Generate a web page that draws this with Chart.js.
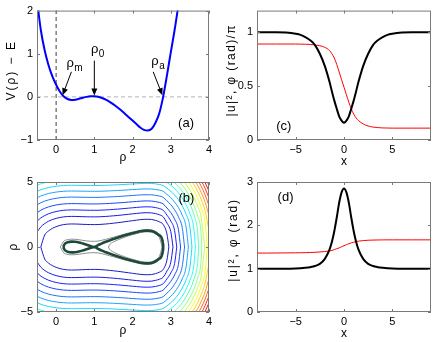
<!DOCTYPE html>
<html>
<head>
<meta charset="utf-8">
<script src="https://cdn.jsdelivr.net/npm/chart.js@4.4.1/dist/chart.umd.min.js"></script>
<style>
  body { margin: 0; background: #fff; width: 436px; height: 342px; position: relative; overflow: hidden; }
  canvas { position: absolute; }
</style>
</head>
<body>
<canvas id="panelA" width="218" height="171" style="left:0;top:0"></canvas>
<canvas id="panelB" width="218" height="171" style="left:0;top:171px"></canvas>
<canvas id="panelC" width="218" height="171" style="left:218px;top:0"></canvas>
<canvas id="panelD" width="218" height="171" style="left:218px;top:171px"></canvas>
<script>
// (a) effective potential V(rho)-E
const rhoGrid = [-0.5, -0.4, -0.3, -0.2, -0.1, 0.0, 0.1, 0.2, 0.3, 0.4, 0.5, 0.6, 0.7, 0.8, 0.9,
                 1.0, 1.1, 1.2, 1.3, 1.4, 1.5, 1.6, 1.7, 1.8, 1.9, 2.0, 2.1, 2.2, 2.3, 2.4,
                 2.5, 2.6, 2.7, 2.8, 2.9, 3.0, 3.1, 3.2, 3.3, 3.4, 3.5, 3.6, 3.7, 3.8, 3.9, 4.0];
const potential = [2.25, 1.55, 1.08, 0.74, 0.48, 0.28, 0.12, 0.01, -0.05, -0.07, -0.065, -0.045, -0.02, 0.0, 0.012,
                   0.015, 0.005, -0.025, -0.065, -0.115, -0.175, -0.24, -0.31, -0.39, -0.47, -0.55, -0.63, -0.71, -0.765, -0.78,
                   -0.74, -0.6, -0.38, 0.0, 0.5, 1.03, 1.55, 2.15, 3.0, 4.2, 5.7, 7.5, 9.6, 12.0, 14.8, 18.0];
const rhoTicks = [0, 1, 2, 3, 4];
const potentialTicks = [-1, 0, 1, 2];

// (b) phase plane: wall of the contours (read from where they close on rho_dot = 0) and their levels
const phaseWall = [2.05, 1.5, 1.08, 0.74, 0.48, 0.28, 0.12, 0.01, -0.05, -0.07, -0.065, -0.045, -0.02, 0.0, 0.012,
                   0.015, 0.005, -0.025, -0.065, -0.115, -0.175, -0.24, -0.31, -0.39, -0.47, -0.55, -0.63, -0.71, -0.765, -0.78,
                   -0.74, -0.6, -0.38, 0.0, 1.0, 2.0, 3.2, 4.6, 6.2, 8.0, 10.0, 12.2, 14.6, 17.2, 20.0, 23.0];
const separatrixLevel = 0.015;
const greyLevels = [-0.1, 0.11];
const contourLevels = [1.5, 2.7, 4.0, 5.5, 7.3, 9.2, 11.2, 13.3, 15.4, 17.5, 19.6, 21.7, 23.8, 25.9, 28.0, 30.1, 32.2, 34.3];
const rhoDotTicks = [-5, 0, 5];

// (c) and (d) profiles
const xGrid = [-9, -8, -7, -6, -5, -4.5, -4, -3.5, -3, -2.5, -2, -1.5, -1.25, -1, -0.75, -0.5, -0.25, 0,
               0.25, 0.5, 0.75, 1, 1.25, 1.5, 2, 2.5, 3, 3.5, 4, 4.5, 5, 6, 7, 8, 9];
const darkDensity = [1, 1, 1, 0.996, 0.985, 0.975, 0.955, 0.925, 0.88, 0.8, 0.69, 0.54, 0.45, 0.365, 0.29, 0.22, 0.18, 0.16,
                     0.18, 0.22, 0.29, 0.365, 0.45, 0.54, 0.69, 0.8, 0.88, 0.925, 0.955, 0.975, 0.985, 0.996, 1, 1, 1];
const darkPhase = [0.89, 0.89, 0.89, 0.89, 0.89, 0.889, 0.888, 0.886, 0.882, 0.874, 0.86, 0.83, 0.8, 0.76, 0.7, 0.63, 0.56, 0.49,
                   0.42, 0.35, 0.29, 0.24, 0.205, 0.18, 0.148, 0.13, 0.12, 0.115, 0.112, 0.111, 0.11, 0.11, 0.11, 0.11, 0.11];
const brightDensity = [1, 1, 1, 1, 1.005, 1.01, 1.02, 1.035, 1.06, 1.11, 1.22, 1.44, 1.62, 1.87, 2.18, 2.52, 2.76, 2.85,
                       2.76, 2.52, 2.18, 1.87, 1.62, 1.44, 1.22, 1.11, 1.06, 1.035, 1.02, 1.01, 1.005, 1, 1, 1, 1];
const brightPhase = [1.36, 1.36, 1.362, 1.364, 1.366, 1.368, 1.37, 1.373, 1.378, 1.385, 1.395, 1.41, 1.42, 1.44, 1.46, 1.48, 1.505, 1.53,
                     1.555, 1.575, 1.595, 1.61, 1.625, 1.635, 1.648, 1.656, 1.66, 1.662, 1.664, 1.665, 1.665, 1.665, 1.665, 1.665, 1.665];
const xTicks = [-5, 0, 5];
const cTicks = [0, 0.5, 1];
const dTicks = [0, 1, 2, 3];

const family = '"Liberation Sans", Arial, Helvetica, sans-serif';
const tickFont = { family: family, size: 11 };
const titleFont = { family: family, size: 12 };
const minus = v => String(v).replace('-', '\u2212');

function axes(o) {
  return {
    x: {
      type: 'linear', min: o.xMin, max: o.xMax,
      afterBuildTicks: s => { s.ticks = o.xTicks.map(v => ({ value: v })); },
      afterFit: s => { s.height = o.xH; },
      grid: { display: false, drawTicks: false, tickLength: 0 },
      border: { display: false },
      ticks: { font: tickFont, color: '#000', padding: 3, maxRotation: 0, autoSkip: false, callback: v => minus(v) },
      title: { display: true, text: o.xTitle, font: titleFont, color: '#000', padding: { top: 0, bottom: o.xTitlePad } }
    },
    y: {
      type: 'linear', min: o.yMin, max: o.yMax,
      afterBuildTicks: s => { s.ticks = o.yTicks.map(v => ({ value: v })); },
      afterFit: s => { s.width = o.yW; },
      grid: { display: false, drawTicks: false, tickLength: 0 },
      border: { display: false },
      ticks: { font: tickFont, color: '#000', padding: 4, autoSkip: false, callback: v => minus(v) },
      title: { display: false }
    }
  };
}

// box, inward ticks, rotated y label, panel letters, arrows
function decor(extra) {
  return {
    id: 'decor',
    afterDatasetsDraw(chart) {
      const { ctx, chartArea: a, scales: { x, y } } = chart;
      ctx.save();
      ctx.strokeStyle = '#7a7a7a';
      ctx.lineWidth = 1;
      ctx.strokeRect(a.left + 0.5, a.top + 0.5, a.width - 1, a.height - 1);
      ctx.beginPath();
      x.ticks.forEach(t => {
        const px = Math.round(x.getPixelForValue(t.value)) + 0.5;
        ctx.moveTo(px, a.bottom); ctx.lineTo(px, a.bottom - 3);
        ctx.moveTo(px, a.top); ctx.lineTo(px, a.top + 3);
      });
      y.ticks.forEach(t => {
        const py = Math.round(y.getPixelForValue(t.value)) + 0.5;
        ctx.moveTo(a.left, py); ctx.lineTo(a.left + 3, py);
        ctx.moveTo(a.right, py); ctx.lineTo(a.right - 3, py);
      });
      ctx.stroke();
      ctx.fillStyle = '#000';
      ctx.strokeStyle = '#000';
      (extra.arrows || []).forEach(ar => {
        const x0 = x.getPixelForValue(ar.from[0]), y0 = y.getPixelForValue(ar.from[1]);
        const x1 = x.getPixelForValue(ar.to[0]), y1 = y.getPixelForValue(ar.to[1]);
        const ang = Math.atan2(y1 - y0, x1 - x0);
        ctx.beginPath(); ctx.moveTo(x0, y0); ctx.lineTo(x1 - 5 * Math.cos(ang), y1 - 5 * Math.sin(ang)); ctx.stroke();
        ctx.beginPath();
        ctx.moveTo(x1, y1);
        ctx.lineTo(x1 - 7 * Math.cos(ang) + 3 * Math.sin(ang), y1 - 7 * Math.sin(ang) - 3 * Math.cos(ang));
        ctx.lineTo(x1 - 7 * Math.cos(ang) - 3 * Math.sin(ang), y1 - 7 * Math.sin(ang) + 3 * Math.cos(ang));
        ctx.closePath(); ctx.fill();
      });
      ctx.textBaseline = 'middle';
      (extra.texts || []).forEach(t => {
        const px = x.getPixelForValue(t.at[0]), py = y.getPixelForValue(t.at[1]);
        ctx.font = '13px ' + family;
        ctx.textAlign = t.sub ? 'left' : 'center';
        ctx.fillText(t.text, px, py);
        if (t.sub) {
          const w = ctx.measureText(t.text).width;
          ctx.font = '10px ' + family;
          ctx.fillText(t.sub, px + w + 0.5, py + 5);
        }
      });
      const yt = extra.yTitle;
      if (yt) {
        ctx.save();
        ctx.translate(a.left + yt.dx, (a.top + a.bottom) / 2 + yt.dy);
        ctx.rotate(-Math.PI / 2);
        ctx.font = '12px ' + family;
        ctx.letterSpacing = yt.spacing + 'px';
        ctx.textAlign = 'center';
        ctx.fillText(yt.text, 0, 0);
        ctx.restore();
      }
      ctx.restore();
    }
  };
}

const baseOptions = (scales, pad) => ({
  responsive: false,
  animation: false,
  events: [],
  layout: { padding: pad },
  elements: { point: { radius: 0 } },
  plugins: { legend: { display: false }, tooltip: { enabled: false } },
  scales: scales
});

const pts = (xs, ys) => xs.map((v, i) => ({ x: v, y: ys[i] }));

// ---- (a)
new Chart(document.getElementById('panelA'), {
  type: 'scatter',
  data: {
    datasets: [
      { data: pts(rhoGrid, potential), showLine: true, borderColor: '#0000ff', borderWidth: 2, cubicInterpolationMode: 'monotone' },
      { data: [{ x: -0.5, y: 0 }, { x: 4, y: 0 }], showLine: true, borderColor: '#b4b4b4', borderWidth: 1, borderDash: [4, 3] },
      { data: [{ x: 0, y: -1 }, { x: 0, y: 2 }], showLine: true, borderColor: '#404040', borderWidth: 1, borderDash: [4, 3] }
    ]
  },
  options: baseOptions(axes({ xMin: -0.5, xMax: 4, yMin: -1, yMax: 2, xTicks: rhoTicks, yTicks: potentialTicks,
    xTitle: 'ρ', xH: 31, yW: 37, xTitlePad: 6 }),
    { left: 0, right: 9, top: 10, bottom: 0 }),
  plugins: [decor({
    yTitle: { text: 'V(ρ) − E', dx: -25, dy: -5, spacing: 2 },
    arrows: [
      { from: [0.40, 0.58], to: [0.17, 0.04] },
      { from: [1.0, 0.84], to: [1.0, 0.03] },
      { from: [2.54, 0.58], to: [2.78, 0.04] }
    ],
    texts: [
      { text: 'ρ', sub: 'm', at: [0.27, 0.78] },
      { text: 'ρ', sub: '0', at: [0.91, 1.1] },
      { text: 'ρ', sub: 'a', at: [2.49, 0.82] },
      { text: '(a)', at: [3.4, -0.62] }
    ]
  })]
});

// ---- (b) contours rho_dot = ±sqrt(2(h - W(rho)))
function branches(level) {
  const out = [];
  let seg = null;
  const cross = i => rhoGrid[i - 1] + (level - phaseWall[i - 1]) * (rhoGrid[i] - rhoGrid[i - 1]) / (phaseWall[i] - phaseWall[i - 1]);
  for (let i = 0; i < rhoGrid.length; i++) {
    const inside = phaseWall[i] <= level;
    if (inside && !seg) {
      seg = [];
      if (i > 0) {
        const r = cross(i);
        if (rhoGrid[i] - r > 1e-3) seg.push({ x: r, p: 0 });
      }
    }
    if (inside) seg.push({ x: rhoGrid[i], p: Math.sqrt(2 * (level - phaseWall[i])) });
    if (!inside && seg) {
      const r = cross(i);
      if (r - seg[seg.length - 1].x > 1e-3) seg.push({ x: r, p: 0 });
      out.push(seg);
      seg = null;
    }
  }
  if (seg) out.push(seg);
  return out;
}

function jet(t) {
  const c = v => Math.round(255 * Math.max(0, Math.min(1, v)));
  return 'rgb(' + c(1.5 - Math.abs(4 * t - 3)) + ',' + c(1.5 - Math.abs(4 * t - 2)) + ',' + c(1.5 - Math.abs(4 * t - 1)) + ')';
}

const phaseSets = [];
function addLevel(level, color, width) {
  branches(level).forEach(seg => {
    [1, -1].forEach(sg => phaseSets.push({
      data: seg.map(q => ({ x: q.x, y: sg * q.p })),
      showLine: true, borderColor: color, borderWidth: width, cubicInterpolationMode: 'monotone'
    }));
  });
}
addLevel(separatrixLevel, '#1d4a3a', 2.6);
greyLevels.forEach(h => addLevel(h, '#707078', 0.8));
contourLevels.forEach(h => addLevel(h, jet((h + 0.78) / 36.3), 0.9));

new Chart(document.getElementById('panelB'), {
  type: 'scatter',
  data: { datasets: phaseSets },
  options: baseOptions(axes({ xMin: -0.5, xMax: 4, yMin: -5, yMax: 5, xTicks: rhoTicks, yTicks: rhoDotTicks,
    xTitle: 'ρ', xH: 30, yW: 37, xTitlePad: 4 }),
    { left: 0, right: 9, top: 11, bottom: 0 }),
  plugins: [decor({ yTitle: { text: 'ρ', dx: -23, dy: 0, spacing: 0 }, texts: [{ text: '(b)', at: [3.41, 3.77] }] })]
});

// ---- (c)
new Chart(document.getElementById('panelC'), {
  type: 'scatter',
  data: {
    datasets: [
      { data: pts(xGrid, darkDensity), showLine: true, borderColor: '#000', borderWidth: 2, cubicInterpolationMode: 'monotone' },
      { data: pts(xGrid, darkPhase), showLine: true, borderColor: '#ff0000', borderWidth: 1, cubicInterpolationMode: 'monotone' }
    ]
  },
  options: baseOptions(axes({ xMin: -9, xMax: 9, yMin: 0, yMax: 1.2, xTicks: xTicks, yTicks: cTicks,
    xTitle: 'x', xH: 31, yW: 39, xTitlePad: 2 }),
    { left: 0, right: 5, top: 10, bottom: 0 }),
  plugins: [decor({ yTitle: { text: '|u|², φ (rad)/π', dx: -25, dy: -5, spacing: 1.4 }, texts: [{ text: '(c)', at: [-6.23, 0.123] }] })]
});

// ---- (d)
new Chart(document.getElementById('panelD'), {
  type: 'scatter',
  data: {
    datasets: [
      { data: pts(xGrid, brightDensity), showLine: true, borderColor: '#000', borderWidth: 2, cubicInterpolationMode: 'monotone' },
      { data: pts(xGrid, brightPhase), showLine: true, borderColor: '#ff0000', borderWidth: 1, cubicInterpolationMode: 'monotone' }
    ]
  },
  options: baseOptions(axes({ xMin: -9, xMax: 9, yMin: 0, yMax: 3, xTicks: xTicks, yTicks: dTicks,
    xTitle: 'x', xH: 30, yW: 39, xTitlePad: 1.5 }),
    { left: 0, right: 5, top: 11, bottom: 0 }),
  plugins: [decor({ yTitle: { text: '|u|², φ (rad)', dx: -23, dy: -7, spacing: 1.8 }, texts: [{ text: '(d)', at: [-6.05, 2.65] }] })]
});
</script>
</body>
</html>
